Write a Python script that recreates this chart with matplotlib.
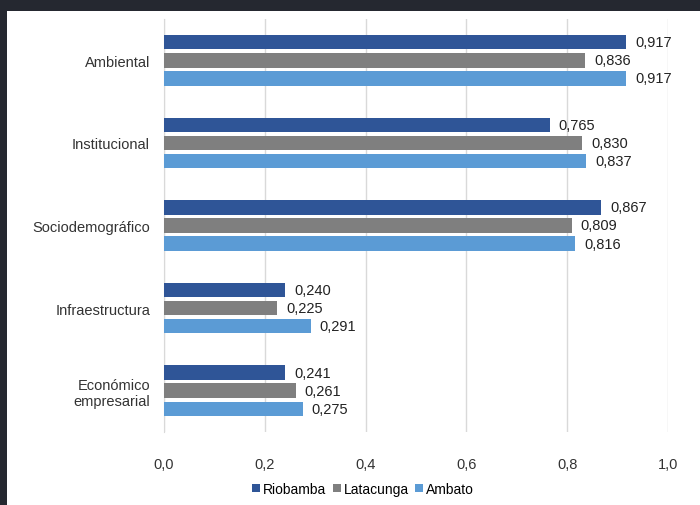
import matplotlib.pyplot as plt
from matplotlib.patches import Rectangle
from matplotlib import font_manager

categorias = ["Ambiental", "Institucional", "Sociodemográfico", "Infraestructura", "Económico\nempresarial"]
riobamba = [0.917, 0.765, 0.867, 0.240, 0.241]
latacunga = [0.836, 0.830, 0.809, 0.225, 0.261]
ambato = [0.917, 0.837, 0.816, 0.291, 0.275]
xticks = [0.0, 0.2, 0.4, 0.6, 0.8, 1.0]

nombres = {f.name for f in font_manager.fontManager.ttflist}
fuente = "Liberation Sans Narrow" if "Liberation Sans Narrow" in nombres else "Liberation Sans"
plt.rcParams['font.family'] = [fuente, 'DejaVu Sans']

fig = plt.figure(figsize=(7, 5.06), dpi=100)
fig.patch.set_facecolor('#252830')
fondo = Rectangle((7 / 700, 0), 1, 494 / 506, transform=fig.transFigure,
                  facecolor='white', edgecolor='none', zorder=-10)
fig.add_artist(fondo)

ax = fig.add_axes([164 / 700, 73 / 506, 504 / 700, 413 / 506])
ax.set_facecolor('white')

series = [("Riobamba", riobamba, '#2F5597'),
          ("Latacunga", latacunga, '#7F7F7F'),
          ("Ambato", ambato, '#5B9BD5')]
pos = list(range(len(categorias)))[::-1]
h = 0.175
off = 0.22
for k, (nom, vals, col) in enumerate(series):
    ys = [p + (1 - k) * off for p in pos]
    ax.barh(ys, vals, height=h, color=col, label=nom, zorder=3)
    for y, v in zip(ys, vals):
        ax.text(v + 0.018, y, f"{v:.3f}".replace('.', ','), va='center', ha='left',
                fontsize=10.5, color='#222222')

ax.set_xlim(0, 1.0)
ax.set_ylim(-0.5, 4.5)
ax.set_xticks(xticks)
ax.set_xticklabels([f"{t:.1f}".replace('.', ',') for t in xticks], fontsize=10.5, color='#333333')
ax.set_yticks(pos)
ax.set_yticklabels(categorias, fontsize=10.5, color='#333333')
ax.tick_params(length=0, pad=10)
ax.tick_params(axis='x', pad=18)
ax.grid(axis='x', color='#D9D9D9', linewidth=1, zorder=0)
for s in ['top', 'right', 'bottom']:
    ax.spines[s].set_visible(False)
ax.spines['left'].set_color('#D9D9D9')

ax.legend(loc='upper center', bbox_to_anchor=(0.395, -0.09), ncol=3, frameon=False,
          fontsize=10, handlelength=0.55, handleheight=0.55, handletextpad=0.2,
          columnspacing=0.5)

plt.savefig('out.png', dpi=100, facecolor=fig.get_facecolor())
